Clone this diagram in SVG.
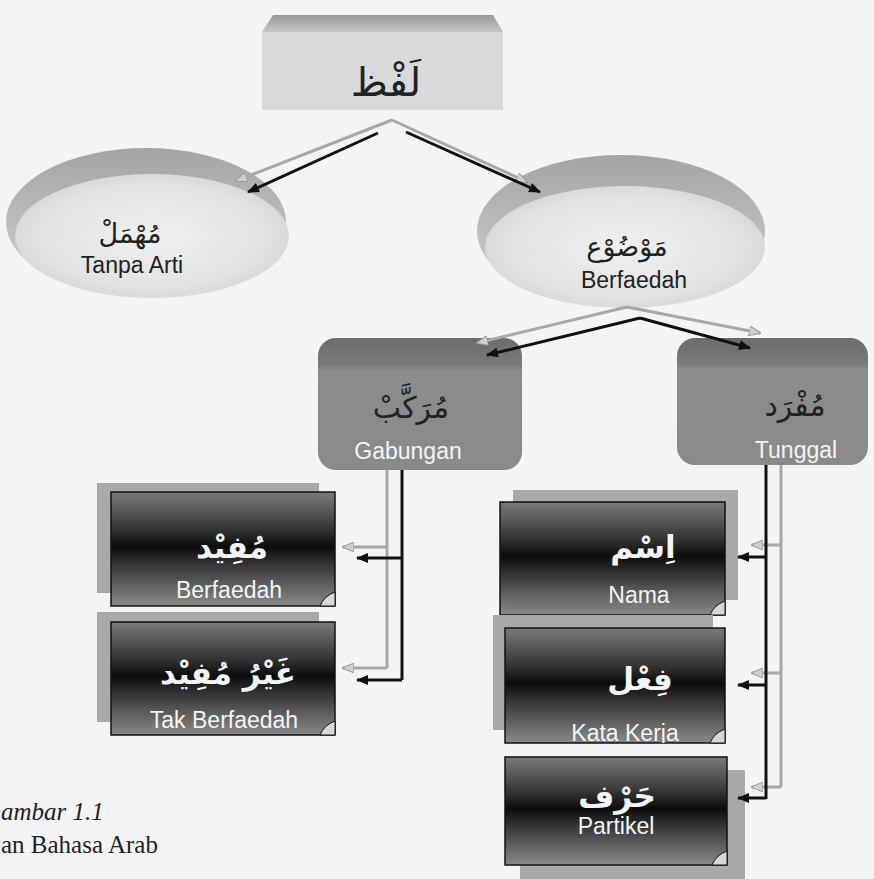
<svg xmlns="http://www.w3.org/2000/svg" width="874" height="879" viewBox="0 0 874 879">
<style>
.ar{font-family:"DejaVu Sans",sans-serif;text-anchor:middle}
.arw{font-family:"DejaVu Sans",sans-serif;text-anchor:middle;font-weight:bold;fill:#f4f4f4}
.lat{font-family:"Liberation Sans",Arial,sans-serif;text-anchor:middle;font-size:23px}
.dark{fill:#222}
.white{fill:#f4f4f4}
.blk{stroke:#111;stroke-width:3;fill:none}
.shd{stroke:#a8a8a8;stroke-width:3;fill:none}
.dbox{fill:url(#dg);stroke:#111;stroke-width:1.5}
.sh{fill:#a9a9a9}
.fold{fill:#d8d8d8;stroke:#111;stroke-width:1}
.cap{font-family:"Liberation Serif","Times New Roman",serif;font-size:25px;fill:#222}
</style>
<defs>
<linearGradient id="tb" x1="0" y1="0" x2="0" y2="1"><stop offset="0" stop-color="#9a9a9a"/><stop offset="1" stop-color="#c4c4c4"/></linearGradient>
<linearGradient id="disc" x1="0" y1="0" x2="0" y2="1"><stop offset="0" stop-color="#a4a4a4"/><stop offset="1" stop-color="#d4d4d4"/></linearGradient>
<radialGradient id="discIn" cx="0.5" cy="0.5" r="0.6"><stop offset="0" stop-color="#f0f0f0"/><stop offset="0.7" stop-color="#e2e2e2"/><stop offset="1" stop-color="#cfcfcf"/></radialGradient>
<linearGradient id="gb" x1="0" y1="0" x2="0" y2="1"><stop offset="0" stop-color="#6c6c6c"/><stop offset="0.2" stop-color="#7a7a7a"/><stop offset="0.25" stop-color="#8c8c8c"/><stop offset="1" stop-color="#8a8a8a"/></linearGradient>
<linearGradient id="dg" x1="0" y1="0" x2="0" y2="1"><stop offset="0" stop-color="#7a7a7a"/><stop offset="0.3" stop-color="#3a3a3a"/><stop offset="0.48" stop-color="#0c0c0c"/><stop offset="0.7" stop-color="#444"/><stop offset="1" stop-color="#8a8a8a"/></linearGradient>
<marker id="ab" viewBox="0 0 12 10" refX="11" refY="5" markerWidth="12" markerHeight="10" markerUnits="userSpaceOnUse" orient="auto"><path d="M0,0 L12,5 L0,10 Z" fill="#111"/></marker>
<marker id="ag" viewBox="0 0 12 10" refX="11" refY="5" markerWidth="12" markerHeight="10" markerUnits="userSpaceOnUse" orient="auto"><path d="M0,0 L12,5 L0,10 Z" fill="#cfcfcf" stroke="#999" stroke-width="1"/></marker>
<clipPath id="ckk"><rect x="505" y="628" width="220" height="115"/></clipPath>
</defs>
<rect width="874" height="879" fill="#f4f4f4"/>

<g id="lafz">
<rect x="262" y="32" width="241" height="78" fill="#d9d9d9"/>
<path d="M262,32 L273,15 L493,15 L503,32 Z" fill="url(#tb)"/>
<text class="ar dark" x="386" y="96" font-size="40">لَفْظ</text>
</g>

<g id="muhmal">
<ellipse cx="146" cy="222" rx="140" ry="74" fill="url(#disc)"/>
<ellipse cx="152" cy="236" rx="137" ry="62" fill="url(#discIn)"/>
<text class="ar dark" x="130" y="243" font-size="27">مُهْمَلْ</text>
<text class="lat dark" x="132" y="273">Tanpa Arti</text>
</g>

<g id="mawdu">
<ellipse cx="621" cy="231" rx="144" ry="76" fill="url(#disc)"/>
<ellipse cx="625" cy="247" rx="140" ry="61" fill="url(#discIn)"/>
<text class="ar dark" x="627" y="256" font-size="27">مَوْضُوْع</text>
<text class="lat dark" x="634" y="288">Berfaedah</text>
</g>

<g id="murakkab">
<rect x="318" y="338" width="204" height="132" rx="18" fill="url(#gb)"/>
<text class="ar dark" x="411" y="418" font-size="30">مُرَكَّبْ</text>
<text class="lat white" x="408" y="459">Gabungan</text>
</g>

<g id="mufrad">
<rect x="677" y="338" width="191" height="127" rx="18" fill="url(#gb)"/>
<text class="ar dark" x="795" y="416" font-size="30">مُفْرَد</text>
<text class="lat white" x="796" y="458">Tunggal</text>
</g>

<g id="mufid">
<rect class="sh" x="97" y="483" width="222" height="110"/>
<rect class="dbox" x="111" y="492" width="224" height="114"/>
<path class="fold" d="M320,606 Q324,596 335,592 L335,606 Z"/>
<text class="arw" x="232" y="558" font-size="31">مُفِيْد</text>
<text class="lat white" x="229" y="598">Berfaedah</text>
</g>

<g id="ghairu-mufid">
<rect class="sh" x="97" y="612" width="222" height="110"/>
<rect class="dbox" x="111" y="622" width="224" height="113"/>
<path class="fold" d="M320,735 Q324,725 335,721 L335,735 Z"/>
<text class="arw" x="228" y="684" font-size="31">غَيْرُ مُفِيْد</text>
<text class="lat white" x="224" y="728">Tak Berfaedah</text>
</g>

<g id="ism">
<rect class="sh" x="513" y="490" width="225" height="110"/>
<rect class="dbox" x="500" y="502" width="225" height="113"/>
<path class="fold" d="M710,615 Q714,605 725,601 L725,615 Z"/>
<text class="arw" x="643" y="558" font-size="31">اِسْم</text>
<text class="lat white" x="639" y="603">Nama</text>
</g>

<g id="fil">
<rect class="sh" x="493" y="615" width="220" height="115"/>
<rect class="dbox" x="505" y="628" width="220" height="115"/>
<path class="fold" d="M710,743 Q714,733 725,729 L725,743 Z"/>
<text class="arw" x="640" y="690" font-size="31">فِعْل</text>
<text class="lat white" x="625" y="741" clip-path="url(#ckk)">Kata Kerja</text>
</g>

<g id="harf">
<rect class="sh" x="520" y="770" width="225" height="109"/>
<rect class="dbox" x="505" y="757" width="222" height="108"/>
<path class="fold" d="M712,865 Q716,855 727,851 L727,865 Z"/>
<text class="arw" x="617" y="807" font-size="31">حَرْف</text>
<text class="lat white" x="616" y="834">Partikel</text>
</g>

<g id="connectors">
<path class="shd" d="M392,120 L236,181" marker-end="url(#ag)"/>
<path class="shd" d="M392,120 L527,182" marker-end="url(#ag)"/>
<path class="blk" d="M378,133 L248,192" marker-end="url(#ab)"/>
<path class="blk" d="M406,132 L540,192" marker-end="url(#ab)"/>

<path class="shd" d="M627,307 L477,343" marker-end="url(#ag)"/>
<path class="shd" d="M627,307 L760,333" marker-end="url(#ag)"/>
<path class="blk" d="M640,318 L487,355" marker-end="url(#ab)"/>
<path class="blk" d="M640,318 L750,348" marker-end="url(#ab)"/>

<path class="shd" d="M387,470 L387,668"/>
<path class="shd" d="M387,547 L343,547" marker-end="url(#ag)"/>
<path class="shd" d="M387,668 L343,668" marker-end="url(#ag)"/>
<path class="blk" d="M402,470 L402,680"/>
<path class="blk" d="M402,558 L357,558" marker-end="url(#ab)"/>
<path class="blk" d="M402,680 L357,680" marker-end="url(#ab)"/>

<path class="shd" d="M781,465 L781,787"/>
<path class="shd" d="M781,545 L752,545" marker-end="url(#ag)"/>
<path class="shd" d="M781,673 L752,673" marker-end="url(#ag)"/>
<path class="shd" d="M781,787 L752,787" marker-end="url(#ag)"/>
<path class="blk" d="M766,465 L766,799"/>
<path class="blk" d="M766,557 L738,557" marker-end="url(#ab)"/>
<path class="blk" d="M766,685 L738,685" marker-end="url(#ab)"/>
<path class="blk" d="M766,798 L738,798" marker-end="url(#ab)"/>
</g>

<g id="caption">
<text class="cap" x="1" y="820" font-style="italic">ambar 1.1</text>
<text class="cap" x="1" y="853">an Bahasa Arab</text>
</g>
</svg>
